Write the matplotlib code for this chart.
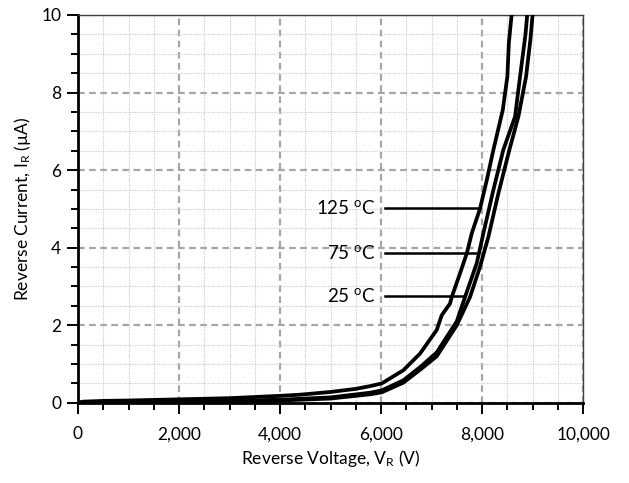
import matplotlib
matplotlib.use("Agg")
import matplotlib.pyplot as plt
from matplotlib.ticker import MultipleLocator, FuncFormatter

plt.rcParams['font.family'] = ['Lato', 'DejaVu Sans']
plt.rcParams['mathtext.default'] = 'regular'

# reverse voltage (V) / reverse current (uA)
v_125 = [0, 100, 500, 1000, 2000, 3000, 4000, 4400, 5000, 5500, 5782, 6013, 6442, 6772,
         7103, 7202, 7366, 7400, 7564, 7697, 7796, 7960, 8093, 8224, 8410, 8455, 8501,
         8530, 8588]
i_125 = [0, 0.03, 0.05, 0.06, 0.09, 0.12, 0.18, 0.21, 0.28, 0.36, 0.43, 0.5, 0.84, 1.27,
         1.88, 2.26, 2.56, 2.73, 3.34, 3.85, 4.37, 5.01, 5.74, 6.52, 7.55, 7.98, 8.41,
         9.27, 10.05]

v_75 = [0, 100, 1000, 2000, 3000, 4000, 5000, 5782, 6013, 6442, 6800, 7103, 7499, 7663,
        7895, 8026, 8224, 8420, 8653, 8752, 8860, 8897]
i_75 = [0, 0.02, 0.03, 0.04, 0.05, 0.08, 0.14, 0.26, 0.32, 0.58, 0.95, 1.3, 2.1, 2.73,
        3.6, 4.37, 5.49, 6.52, 7.38, 8.41, 9.5, 10.05]

v_25 = [0, 1000, 2000, 3000, 4000, 5000, 5782, 6013, 6442, 6800, 7103, 7499, 7762, 7960,
        8125, 8323, 8540, 8719, 8871, 8960, 9003]
i_25 = [0, 0.02, 0.03, 0.04, 0.06, 0.11, 0.22, 0.27, 0.52, 0.88, 1.2, 2.0, 2.73, 3.51,
        4.28, 5.4, 6.52, 7.38, 8.41, 9.4, 10.05]

labels = ['125 $^{o}$C', '75 $^{o}$C', '25 $^{o}$C']
label_y = [5.02, 3.86, 2.75]
leader_start = 6077
leader_end = [7960, 7880, 7640]

fig = plt.figure(figsize=(6.29, 4.83), dpi=100)
ax = fig.add_axes([0.124, 0.166, 0.803, 0.803])

for v, i in [(v_125, i_125), (v_75, i_75), (v_25, i_25)]:
    ax.plot(v, i, color='black', lw=2.7, solid_joinstyle='round', zorder=3)

for lab, y, xe in zip(labels, label_y, leader_end):
    ax.plot([leader_start, xe], [y, y], color='black', lw=1.8, zorder=3)
    ax.text(5900, y, lab, ha='right', va='center', fontsize=13.5)

ax.set_xlim(0, 10000)
ax.set_ylim(0, 10)
ax.xaxis.set_major_locator(MultipleLocator(2000))
ax.xaxis.set_minor_locator(MultipleLocator(500))
ax.yaxis.set_major_locator(MultipleLocator(2))
ax.yaxis.set_minor_locator(MultipleLocator(0.5))
ax.xaxis.set_major_formatter(FuncFormatter(lambda x, p: f'{int(x):,}'))

ax.grid(which='major', color='#a6a6a6', lw=1.6, ls=(0, (3, 2)))
ax.grid(which='minor', color='#c8c8c8', lw=0.8, ls=(0, (1, 1.2)))
ax.set_axisbelow(True)

ax.tick_params(which='major', length=8, width=1.4, labelsize=12.5, color='black')
ax.tick_params(which='minor', length=5, width=1.4, color='black')
ax.tick_params(axis='x', which='major', pad=9)
ax.tick_params(axis='y', which='major', pad=4)

ax.spines['left'].set_linewidth(2.0)
ax.spines['bottom'].set_linewidth(2.0)
ax.spines['top'].set_linewidth(1.0)
ax.spines['right'].set_linewidth(1.0)
ax.spines['top'].set_color('#404040')
ax.spines['right'].set_color('#404040')

ax.set_xlabel('Reverse Voltage, V$_R$ (V)', fontsize=12.5, labelpad=4)
ax.set_ylabel('Reverse Current, I$_R$ (µA)', fontsize=12.5, labelpad=6)

fig.savefig('out.png', dpi=100)
